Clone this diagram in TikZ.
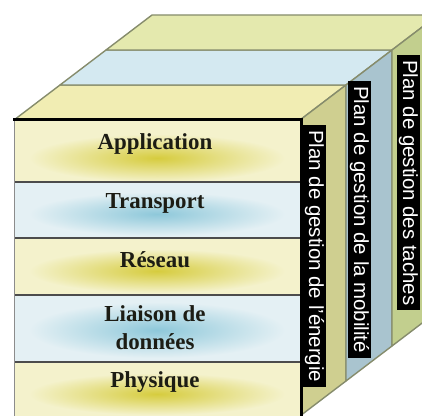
\documentclass[tikz,border=0pt]{standalone}
\usepackage{fontspec}
\setmainfont{Liberation Serif}
\setsansfont{Liberation Sans}
\usetikzlibrary{positioning}

\definecolor{yelpale}{HTML}{F4F2CC}
\definecolor{yelcore}{HTML}{D6CC3E}
\definecolor{bluepale}{HTML}{E4F0F4}
\definecolor{bluecore}{HTML}{8EC8DA}
\definecolor{topyel}{HTML}{F1EDB3}
\definecolor{topblue}{HTML}{D4E9F1}
\definecolor{topgreen}{HTML}{E4E9AE}
\definecolor{sideyel}{HTML}{CFCF90}
\definecolor{sideblue}{HTML}{A9C4CF}
\definecolor{sidegreen}{HTML}{C2CF8E}
\definecolor{edgegrey}{HTML}{868C6C}
\definecolor{textdark}{HTML}{1C1C14}

\tikzset{
  edge/.style = {draw = edgegrey, line width = 1.4bp, line join = round},
  layername/.style = {font = \fontsize{23}{28}\selectfont\bfseries, text = textdark, align = center},
  plan/.style = {fill = black, text = white, font = \sffamily\fontsize{20.5}{21}\selectfont,
    rotate = -90, anchor = south west, inner xsep = 5bp, inner ysep = 1.5bp,
    text height = 15bp, text depth = 4.5bp}
}

\begin{document}
\begin{tikzpicture}[x = 1bp, y = 1bp]
\useasboundingbox (0, 0) rectangle (422, 416);
\clip (0, 0) rectangle (422, 416);
\filldraw[edge, fill = topyel] (14, 296) -- (300, 296) -- (346, 331) -- (60, 331) -- cycle;
\filldraw[edge, fill = topblue] (60, 331) -- (346, 331) -- (392, 366) -- (106, 366) -- cycle;
\filldraw[edge, fill = topgreen] (106, 366) -- (392, 366) -- (438, 401) -- (152, 401) -- cycle;
\filldraw[edge, fill = sideyel] (300, 296) -- (346, 331) -- (346, 35) -- (300, 0) -- cycle;
\filldraw[edge, fill = sideblue] (346, 331) -- (392, 366) -- (392, 70) -- (346, 35) -- cycle;
\filldraw[edge, fill = sidegreen] (392, 366) -- (438, 401) -- (438, 105) -- (392, 70) -- cycle;
\fill[yelpale] (14, 234) rectangle (300, 296);
\fill[bluepale] (14, 178) rectangle (300, 234);
\fill[yelpale] (14, 121) rectangle (300, 178);
\fill[bluepale] (14, 54) rectangle (300, 121);
\fill[yelpale] (14, 0) rectangle (300, 54);
\shade[inner color = yelcore, outer color = yelpale] (157, 258) ellipse (128 and 24);
\shade[inner color = bluecore, outer color = bluepale] (157, 202) ellipse (128 and 22);
\shade[inner color = yelcore, outer color = yelpale] (157, 145) ellipse (128 and 22);
\shade[inner color = bluecore, outer color = bluepale] (157, 86) ellipse (128 and 28);
\shade[inner color = yelcore, outer color = yelpale] (157, 22) ellipse (128 and 21);
\draw[line width = 1.2bp, black!70] (14, 234) -- (300, 234);
\draw[line width = 1.2bp, black!70] (14, 178) -- (300, 178);
\draw[line width = 1.2bp, black!70] (14, 121) -- (300, 121);
\draw[line width = 1.2bp, black!70] (14, 54) -- (300, 54);
\draw[line width = 1bp, black!45] (14, 0) -- (14, 296);
\draw[line width = 3bp, black] (13, 296) -- (301, 296) -- (301, 0);
\node[layername] (app) at (155, 272){Application};
\node[layername] (transport) at (155, 213){Transport};
\node[layername] (reseau) at (155, 156){Réseau};
\node[layername] (liaison) at (155, 88){Liaison de\\données};
\node[layername] (physique) at (155, 34){Physique};
\node[plan] (energie) at (303, 291){Plan de gestion de l'énergie};
\node[plan] (mobilite) at (348, 335){Plan de gestion de la mobilité};
\node[plan] (taches) at (397, 361){Plan de gestion des taches};
\end{tikzpicture}
\end{document}
